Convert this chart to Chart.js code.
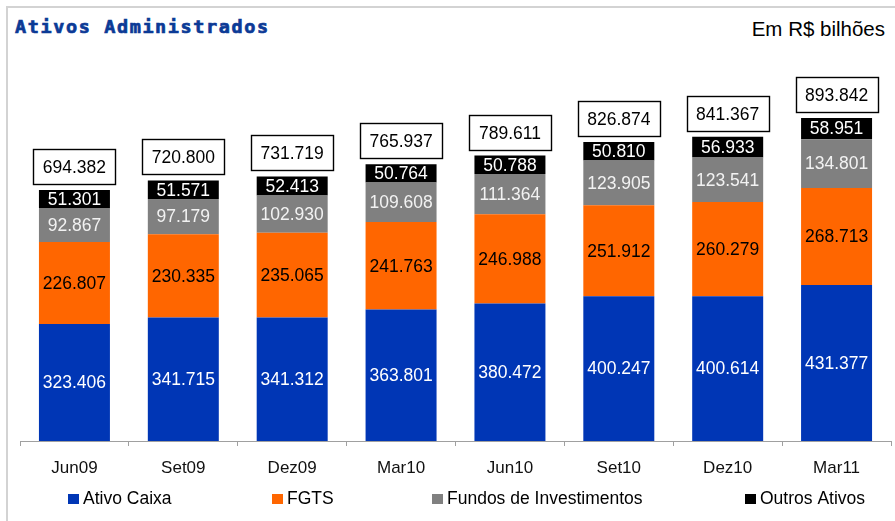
<!DOCTYPE html>
<html><head><meta charset="utf-8">
<script src="https://cdn.jsdelivr.net/npm/chart.js@4.4.0/dist/chart.umd.min.js"></script>
<style>
html,body{margin:0;padding:0;background:#fff;}
#wrap{position:relative;width:895px;height:521px;overflow:hidden;background:#fff;}
#frame{position:absolute;left:6px;top:6px;width:950px;height:600px;border-left:2px solid #d3d3d3;border-top:2px solid #d3d3d3;}
#title{position:absolute;left:15px;top:18px;line-height:18px;font-weight:bold;font-size:18.5px;font-family:"DejaVu Sans Mono",monospace;letter-spacing:1.6px;color:#0b3a96;white-space:nowrap;-webkit-text-stroke:0.7px #0b3a96;}
#unit{position:absolute;right:10px;top:19px;line-height:20px;font-size:20.5px;font-family:"Liberation Sans",Arial,sans-serif;color:#000;white-space:nowrap;}
canvas{position:absolute;left:0;top:0;}
</style></head>
<body>
<div id="wrap">
<div id="frame"></div>
<div id="title">Ativos Administrados</div>
<div id="unit">Em R$ bilhões</div>
<canvas id="c" width="895" height="521"></canvas>
</div>
<script>
const categories = ['Jun09','Set09','Dez09','Mar10','Jun10','Set10','Dez10','Mar11'];
const seriesNames = ['Ativo Caixa','FGTS','Fundos de Investimentos','Outros Ativos'];
const ativoCaixa = [323.406,341.715,341.312,363.801,380.472,400.247,400.614,431.377];
const fgts = [226.807,230.335,235.065,241.763,246.988,251.912,260.279,268.713];
const fundos = [92.867,97.179,102.930,109.608,111.364,123.905,123.541,134.801];
const outros = [51.301,51.571,52.413,50.764,50.788,50.810,56.933,58.951];
const totals = [694.382,720.800,731.719,765.937,789.611,826.874,841.367,893.842];

const colors = ['#0036B5','#FF6600','#808080','#000000'];
const labelColors = ['#ffffff','#000000','#f2f2f2','#ffffff'];
const FONT = '"Liberation Sans", Arial, sans-serif';

const labelsPlugin = {
  id: 'labelsPlugin',
  afterDatasetsDraw(chart) {
    const ctx = chart.ctx;
    ctx.save();
    chart.data.datasets.forEach((ds, di) => {
      const meta = chart.getDatasetMeta(di);
      meta.data.forEach((bar, i) => {
        const p = bar.getProps(['x','y','base'], true);
        ctx.font = '17.5px ' + FONT;
        ctx.fillStyle = labelColors[di];
        ctx.textAlign = 'center';
        ctx.textBaseline = 'middle';
        ctx.fillText(ds.data[i].toFixed(3), p.x, (p.y + p.base) / 2 + 1);
      });
    });
    const topMeta = chart.getDatasetMeta(chart.data.datasets.length - 1);
    topMeta.data.forEach((bar, i) => {
      const p = bar.getProps(['x','y'], true);
      const w = 82, h = 35;
      const bx = Math.round(p.x - w / 2) + 0.5, by = Math.round(p.y - 6 - h) + 0.5;
      ctx.fillStyle = '#fff';
      ctx.fillRect(bx, by, w, h);
      ctx.lineWidth = 1.4;
      ctx.strokeStyle = '#000';
      ctx.strokeRect(bx, by, w, h);
      ctx.font = '17.5px ' + FONT;
      ctx.fillStyle = '#000';
      ctx.textAlign = 'center';
      ctx.textBaseline = 'middle';
      ctx.fillText(totals[i].toFixed(3), p.x, by + h / 2 + 1);
    });
    const lx = [68, 272, 432, 745];
    chart.data.datasets.forEach((ds, di) => {
      ctx.fillStyle = ds.backgroundColor;
      ctx.fillRect(lx[di], 494, 11, 10);
      ctx.font = '17.5px ' + FONT;
      ctx.fillStyle = '#000';
      ctx.textAlign = 'left';
      ctx.textBaseline = 'alphabetic';
      ctx.fillText(ds.label, lx[di] + 15, 504);
    });
    ctx.restore();
  }
};

const seriesData = [ativoCaixa, fgts, fundos, outros];
new Chart(document.getElementById('c'), {
  type: 'bar',
  data: {
    labels: categories,
    datasets: seriesData.map((d, i) => ({
      label: seriesNames[i],
      data: d,
      backgroundColor: colors[i],
      borderWidth: 0,
      barPercentage: 0.652,
      categoryPercentage: 1.0
    }))
  },
  options: {
    responsive: false,
    animation: false,
    devicePixelRatio: 1,
    layout: { padding: { left: 20, right: 4, top: 60, bottom: 0 } },
    plugins: { legend: { display: false }, title: { display: false }, tooltip: { enabled: false } },
    scales: {
      x: {
        stacked: true,
        afterFit: s => { s.height = 80; },
        grid: { display: true, drawOnChartArea: false, drawTicks: true, tickLength: 5, color: '#a0a0a0', offset: true },
        border: { display: true, color: '#a0a0a0', width: 1 },
        ticks: { font: { size: 17, family: FONT }, color: '#111', padding: 12 }
      },
      y: {
        stacked: true,
        display: false,
        min: 0,
        max: 1054
      }
    }
  },
  plugins: [labelsPlugin]
});
</script>
</body></html>
